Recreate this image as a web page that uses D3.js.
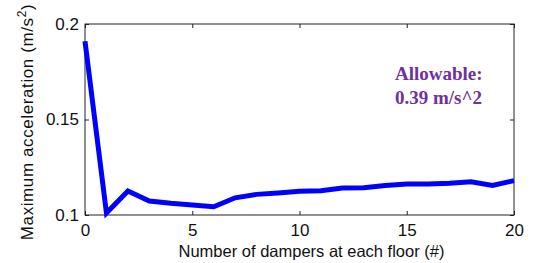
<!DOCTYPE html>
<html>
<head>
<meta charset="utf-8">
<script src="https://cdn.jsdelivr.net/npm/d3@7"></script>
<style>
  body { margin: 0; background: #fff; }
  svg { display: block; }
</style>
</head>
<body>
<div id="chart"></div>
<script>
// dampers per floor vs. peak acceleration
var dampers = [0, 1, 2, 3, 4, 5, 6, 7, 8, 9, 10, 11, 12, 13, 14, 15, 16, 17, 18, 19, 20];
var accel = [0.191, 0.101, 0.1126, 0.1073, 0.1061, 0.1052, 0.1043, 0.109, 0.1108, 0.1115, 0.1124,
             0.1127, 0.1141, 0.1143, 0.1154, 0.1162, 0.1162, 0.1166, 0.1174, 0.1155, 0.118];
var xTicks = [0, 5, 10, 15, 20];
var yTicks = [0.1, 0.15, 0.2];
var note = ["Allowable:", "0.39 m/s^2"];

var W = 538, H = 263;
var margin = {top: 24, right: 24, bottom: 48, left: 85};
var width = W - margin.left - margin.right,
    height = H - margin.top - margin.bottom;

var svg = d3.select("#chart")
            .append("svg")
            .attr("width", W)
            .attr("height", H);

var g = svg.append("g")
           .attr("transform", "translate(" + margin.left + "," + margin.top + ")");

var x = d3.scaleLinear().domain([0, 20]).range([0, width]);
var y = d3.scaleLinear().domain([0.1, 0.2]).range([height, 0]);

var font = "17px 'Liberation Sans', Arial, sans-serif";

// axes with inward ticks, mirrored on top/right
g.append("g")
    .attr("transform", "translate(0," + height + ")")
    .call(d3.axisBottom(x).tickValues(xTicks).tickFormat(d3.format("d")).tickSize(-4).tickPadding(9))
    .call(a => a.select(".domain").remove())
    .style("font", font);

g.append("g")
    .call(d3.axisTop(x).tickValues(xTicks).tickFormat("").tickSize(-4))
    .call(a => a.select(".domain").remove());

g.append("g")
    .call(d3.axisLeft(y).tickValues(yTicks).tickFormat(d => d === 0.15 ? "0.15" : d3.format(".1f")(d)).tickSize(-4).tickPadding(6))
    .call(a => a.select(".domain").remove())
    .style("font", font);

g.append("g")
    .attr("transform", "translate(" + width + ",0)")
    .call(d3.axisRight(y).tickValues(yTicks).tickFormat("").tickSize(-4))
    .call(a => a.select(".domain").remove());

g.selectAll(".tick line").attr("stroke", "#222");
g.selectAll(".tick text").attr("fill", "#111");

// box
g.append("rect")
    .attr("width", width)
    .attr("height", height)
    .attr("fill", "none")
    .attr("stroke", "#222")
    .attr("stroke-width", 1);

// line
var line = d3.line()
    .x((d, i) => x(dampers[i]))
    .y(d => y(d));

g.append("path")
    .datum(accel)
    .attr("d", line)
    .attr("fill", "none")
    .attr("stroke", "#0000ff")
    .attr("stroke-width", 5)
    .attr("stroke-linejoin", "miter");

// annotation
g.selectAll(".note")
    .data(note)
    .join("text")
    .attr("class", "note")
    .attr("x", 310)
    .attr("y", (d, i) => 56 + i * 24)
    .attr("fill", "#7030a0")
    .style("font", "bold 19px 'Liberation Serif', 'Times New Roman', serif")
    .text(d => d);

// axis titles
svg.append("text")
    .attr("x", margin.left + width / 2 + 12)
    .attr("y", 257)
    .attr("text-anchor", "middle")
    .attr("fill", "#111")
    .style("font", "16.5px 'Liberation Sans', Arial, sans-serif")
    .text("Number of dampers at each floor (#)");

var yl = svg.append("text")
    .attr("transform", "translate(33,122) rotate(-90)")
    .attr("text-anchor", "middle")
    .attr("fill", "#111")
    .style("font", font)
    .style("letter-spacing", "0.6px");
yl.append("tspan").text("Maximum acceleration (m/s");
yl.append("tspan").attr("dy", -7).style("font-size", "12px").text("2");
yl.append("tspan").attr("dy", 7).text(")");
</script>
</body>
</html>
